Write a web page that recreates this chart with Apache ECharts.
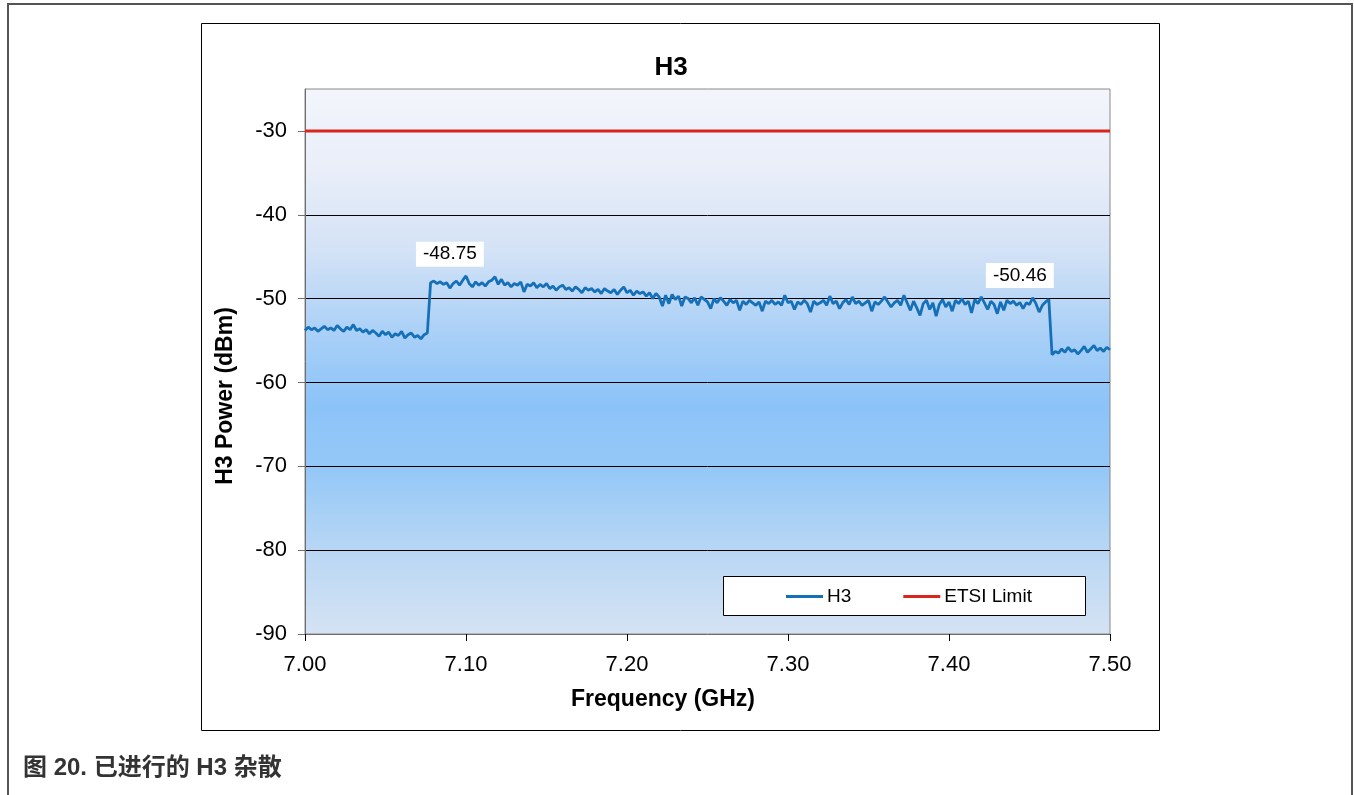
<!DOCTYPE html>
<html>
<head>
<meta charset="utf-8">
<title>H3</title>
<script src="https://cdn.jsdelivr.net/npm/echarts@6/dist/echarts.min.js"></script>
<style>
  html, body { margin: 0; padding: 0; background: #ffffff; }
  #chart { width: 1354px; height: 795px; }
</style>
</head>
<body>
<div id="chart"></div>
<script>
// Sweep grid: 7.000 GHz to 7.500 GHz in 2 MHz steps
const FREQ_START = 7.0;
const FREQ_STEP = 0.002;

// Measured H3 power (dBm), one value per sweep point
const h3Power = [
  -53.8, -53.4, -53.7, -53.5, -53.9, -53.6, -53.3, -53.7, -53.5, -53.8,
  -53.2, -53.6, -53.9, -53.4, -53.7, -53.1, -53.8, -53.6, -54.0, -53.7,
  -54.2, -53.8, -54.1, -54.5, -53.9, -54.3, -54.0, -54.6, -54.2, -54.4,
  -53.9, -54.7, -54.3, -54.1, -54.6, -54.4, -54.8, -54.3, -54.1, -48.1,
  -47.9, -48.2, -48.0, -48.3, -48.1, -48.75, -48.2, -47.9, -48.4, -47.8,
  -47.3, -48.2, -48.6, -48.0, -48.4, -48.1, -48.5, -48.0, -47.8, -47.4,
  -48.3, -47.7, -48.4, -48.1, -48.6, -48.2, -48.4, -48.0, -49.2, -48.3,
  -48.5, -48.1, -48.7, -48.3, -48.6, -48.2, -48.8, -48.5, -49.0, -48.6,
  -48.4, -48.9, -48.7, -49.1, -48.6, -48.9, -49.3, -48.7, -49.0, -48.8,
  -49.2, -48.9, -49.4, -48.8, -49.1, -49.3, -48.9, -49.5, -49.0, -48.6,
  -49.3, -49.0, -49.6, -49.1, -49.4, -49.2, -49.7, -49.3, -50.0, -49.4,
  -49.8, -50.9, -49.6, -50.6, -49.5, -50.1, -49.7, -50.9, -49.8, -50.0,
  -50.5, -49.9, -50.8, -49.8, -50.1, -50.4, -51.2, -50.0, -50.5, -49.9,
  -50.3, -50.8, -50.1, -50.5, -50.2, -51.4, -50.3, -50.7, -50.2, -50.5,
  -50.8, -50.4, -51.5, -50.3, -50.6, -50.2, -50.7, -50.4, -50.8, -49.6,
  -50.5, -50.3, -51.3, -50.4, -50.7, -50.2, -50.6, -51.6, -50.3, -50.7,
  -50.5, -50.2, -50.8, -49.7, -50.6, -50.3, -51.2, -50.5, -50.1, -50.7,
  -49.8, -50.6, -50.3, -50.8, -50.5, -50.2, -51.5, -50.4, -50.7, -50.3,
  -49.8, -50.4, -51.0, -50.5, -50.2, -50.8, -49.6, -50.5, -51.4, -50.3,
  -51.1, -52.0, -50.6, -50.2, -51.3, -50.5, -52.1, -50.7, -50.1, -51.0,
  -50.4, -51.5, -50.2, -50.6, -50.0, -50.7, -50.3, -51.7, -50.1, -50.6,
  -49.8, -50.5, -51.3, -50.3, -50.7, -51.8, -50.4, -51.4, -50.2, -50.6,
  -50.3, -50.8, -50.46, -51.2, -50.5, -50.7, -49.9, -50.6, -51.6, -50.8,
  -50.4, -50.1, -56.7, -56.3, -56.5, -56.0, -56.4, -55.8, -56.3, -56.1,
  -56.6, -56.2, -55.7, -56.4, -56.0, -55.6, -56.2, -55.9, -56.3, -55.8, -56.1
];

// ETSI spurious emission limit (dBm) across the band
const limitFreqs = [7.0, 7.5];
const limitPower = [-30, -30];

// Sweep points whose readings are annotated
const annotatedFreqs = [7.090, 7.444];
const annotationGaps = [20, 13];

// Axis ticks
const xTicks = [7.0, 7.1, 7.2, 7.3, 7.4, 7.5];
const yTicks = [-90, -80, -70, -60, -50, -40, -30];

const FONT = 'Arial, "Liberation Sans", sans-serif';
const AXIS_GRAY = '#6e6e6e';
const H3_BLUE = '#1670b8';
const LIMIT_RED = '#d9261c';
const CLEAR = 'rgba(0,0,0,0)';

const annotatedIdx = annotatedFreqs.map(f => Math.round((f - FREQ_START) / FREQ_STEP));

const h3Data = h3Power.map((v, i) => {
  const f = +(FREQ_START + i * FREQ_STEP).toFixed(3);
  const k = annotatedIdx.indexOf(i);
  if (k < 0) return [f, v];
  // transparent anchor symbol carrying the value label
  return {
    value: [f, v],
    symbolSize: 2,
    itemStyle: { color: CLEAR, borderColor: CLEAR },
    label: {
      show: true,
      position: 'top',
      distance: annotationGaps[k],
      formatter: p => p.value[1].toFixed(2),
      backgroundColor: '#ffffff',
      padding: [3, 7],
      color: '#000000',
      fontFamily: FONT,
      fontSize: 19
    }
  };
});

const limitData = limitFreqs.map((f, i) => [f, limitPower[i]]);

const chart = echarts.init(document.getElementById('chart'), null, { renderer: 'canvas' });

chart.setOption({
  animation: false,
  backgroundColor: '#ffffff',
  textStyle: { fontFamily: FONT },
  title: {
    text: 'H3',
    left: 666,
    top: 50,
    textAlign: 'center',
    textStyle: { fontFamily: FONT, fontSize: 26, fontWeight: 'bold', color: '#000000' }
  },
  grid: {
    left: 305,
    top: 89,
    width: 805,
    height: 545,
    show: true,
    borderColor: '#8a8a8a',
    borderWidth: 1,
    outerBoundsMode: 'none',
    backgroundColor: {
      type: 'linear', x: 0, y: 0, x2: 0, y2: 1,
      colorStops: [
        { offset: 0.0, color: '#f3f5fb' },
        { offset: 0.15, color: '#e9eef9' },
        { offset: 0.3, color: '#d3e2f6' },
        { offset: 0.45, color: '#a9d0f7' },
        { offset: 0.58, color: '#8cc3f8' },
        { offset: 0.7, color: '#95c8f7' },
        { offset: 0.85, color: '#b9d7f4' },
        { offset: 1.0, color: '#d5e3f3' }
      ]
    }
  },
  legend: {
    z: 10,
    left: 781,
    top: 582,
    icon: 'rect',
    itemWidth: 37,
    itemHeight: 3,
    itemGap: 52,
    textStyle: { fontFamily: FONT, fontSize: 19, color: '#000000', padding: [0, 0, 0, -1] },
    data: ['H3', 'ETSI Limit']
  },
  xAxis: {
    type: 'value',
    min: 7.0,
    max: 7.5,
    interval: 0.1,
    axisLine: { show: true, lineStyle: { color: AXIS_GRAY, width: 1 } },
    axisTick: { show: true, length: 7, lineStyle: { color: '#000000' }, customValues: xTicks },
    axisLabel: {
      customValues: xTicks,
      formatter: v => v.toFixed(2),
      fontFamily: FONT, fontSize: 22, color: '#000000', margin: 20
    },
    splitLine: { show: false }
  },
  yAxis: {
    type: 'value',
    min: -90,
    max: -25,
    interval: 10,
    axisLine: { show: true, lineStyle: { color: AXIS_GRAY, width: 1 } },
    axisTick: { show: true, length: 7, lineStyle: { color: AXIS_GRAY }, customValues: yTicks },
    axisLabel: {
      customValues: yTicks,
      fontFamily: FONT, fontSize: 22, color: '#000000', margin: 18
    },
    splitLine: {
      show: true,
      showMinLine: false,
      showMaxLine: false,
      lineStyle: { color: '#000000', width: 1 }
    }
  },
  series: [
    {
      name: 'H3',
      type: 'line',
      data: h3Data,
      symbol: 'circle',
      symbolSize: 0,
      showSymbol: true,
      lineStyle: { color: H3_BLUE, width: 2.8 },
      itemStyle: { color: H3_BLUE },
      z: 3
    },
    {
      name: 'ETSI Limit',
      type: 'line',
      data: limitData,
      symbol: 'none',
      showSymbol: false,
      lineStyle: { color: LIMIT_RED, width: 3 },
      itemStyle: { color: LIMIT_RED },
      z: 4
    }
  ],
  graphic: [
    // page frame
    { type: 'rect', z: 1, shape: { x: 8, y: 4, width: 1344, height: 830 },
      style: { fill: 'none', stroke: '#555555', lineWidth: 2 }, silent: true },
    // chart frame
    { type: 'rect', z: 1, shape: { x: 201.5, y: 23.5, width: 958, height: 707 },
      style: { fill: 'none', stroke: '#000000', lineWidth: 1 }, silent: true },
    // legend box
    { type: 'rect', z: 2, shape: { x: 723.5, y: 576.5, width: 362, height: 39 },
      style: { fill: '#ffffff', stroke: '#000000', lineWidth: 1 }, silent: true },
    // axis names
    { type: 'text', z: 2, x: 226, y: 396, rotation: Math.PI / 2,
      style: { text: 'H3 Power (dBm)', font: 'bold 23px ' + FONT, fill: '#000000',
               align: 'center', verticalAlign: 'middle' } },
    { type: 'text', z: 2, x: 663, y: 700,
      style: { text: 'Frequency (GHz)', font: 'bold 23px ' + FONT, fill: '#000000',
               align: 'center', verticalAlign: 'middle' } },
    // caption
    { type: 'text', z: 2, x: 23, y: 768,
      style: { text: '图 20. 已进行的 H3 杂散', font: 'bold 24px Arial, "Liberation Sans", "Noto Sans CJK SC", sans-serif',
               fill: '#333333', align: 'left', verticalAlign: 'middle' } }
  ]
});
</script>
</body>
</html>
